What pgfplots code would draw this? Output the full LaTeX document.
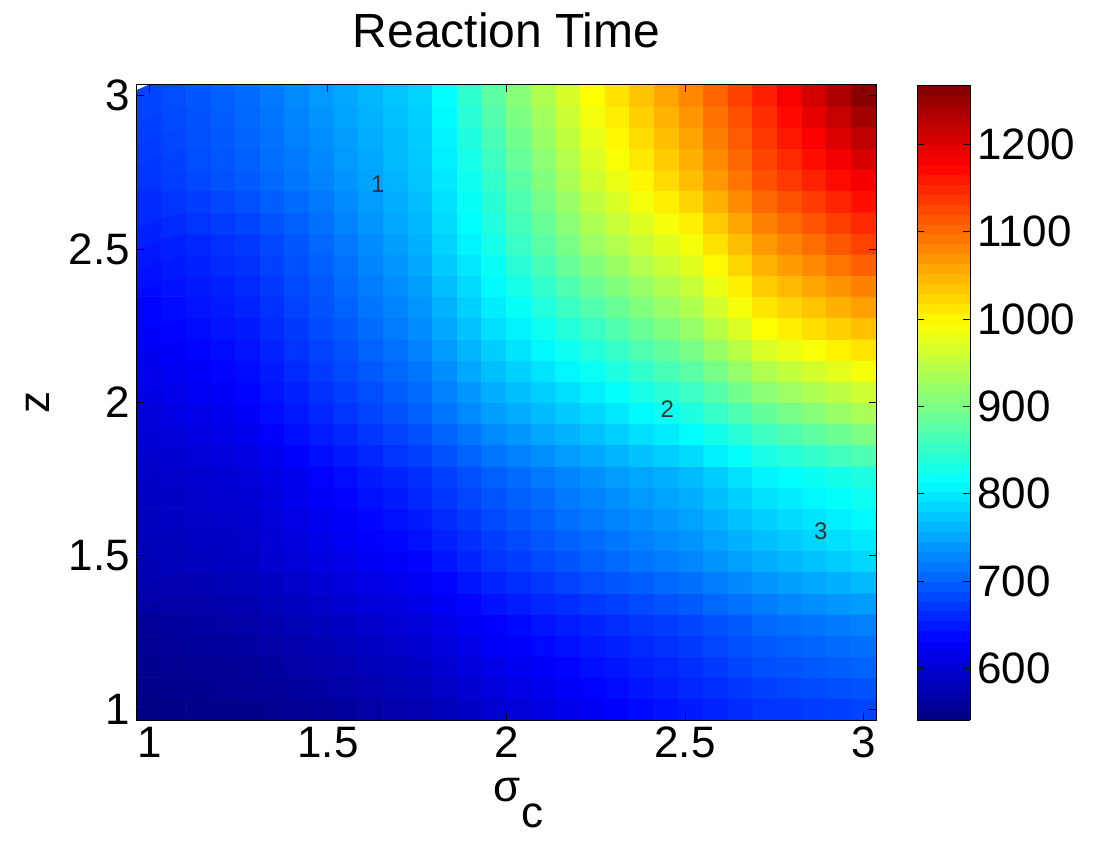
\documentclass[border=0pt]{standalone}
\usepackage{fontspec}
\setmainfont{Liberation Sans}
\usepackage{pgfplots}
\pgfplotsset{compat=1.18}

% MATLAB jet
\pgfplotsset{
  colormap={matjet}{rgb255(0cm)=(0,0,128) rgb255(1cm)=(0,0,255) rgb255(3cm)=(0,255,255)
    rgb255(5cm)=(255,255,0) rgb255(7cm)=(255,0,0) rgb255(8cm)=(128,0,0)},
}

\begin{document}
\begin{tikzpicture}
\begin{axis}[
  name=main,
  scale only axis, width=369.5pt, height=317.5pt,
  xmin=0.9655, xmax=3.0345, ymin=0.9655, ymax=3.0345,
  xtick={1,1.5,2,2.5,3}, ytick={1,1.5,2,2.5,3},
  tick align=inside, major tick length=3.7pt,
  every tick/.style={black, line width=0.5pt},
  axis line style={line width=0.5pt},
  tick label style={font=\fontsize{22}{22}\selectfont},
  /pgf/number format/assume math mode=true,
  title={Reaction Time},
  title style={font=\fontsize{24}{24}\selectfont, yshift=9pt},
  xlabel={σ\raisebox{-0.6em}{c}},
  xlabel style={yshift=-3pt, xshift=6pt},
  ylabel={z},
  ylabel style={yshift=3pt},
  label style={font=\fontsize{22}{22}\selectfont},
  colormap name=matjet,
  point meta min=541, point meta max=1268,
  colorbar sampled,
  colorbar style={
    samples=65,
    width=26.5pt,
    at={(parent axis.north east)}, anchor=north west, xshift=12pt,
    ytick={600,700,...,1200},
    tick align=inside, major tick length=3.7pt,
    ytick pos=both, yticklabel pos=right,
    yticklabel style={font=\fontsize{22}{22}\selectfont},
    /pgf/number format/1000 sep={},
    /pgf/number format/assume math mode=true,
  },
  axis on top,
]
\addplot[matrix plot*, mesh/cols=30, point meta=explicit]
  table[row sep=\\, meta index=0,
        x expr={1+2*mod(\coordindex,30)/29},
        y expr={1+2*floor(\coordindex/30)/29}] {
rt\\
545\\ 546\\ 548\\ 549\\ 550\\ 553\\ 556\\ 559\\ 563\\ 567\\ 571\\ 575\\ 583\\ 590\\ 598\\ 605\\ 612\\ 618\\ 625\\ 631\\ 638\\ 644\\ 650\\ 656\\ 662\\ 668\\ 671\\ 674\\ 677\\ 680\\
549\\ 551\\ 552\\ 554\\ 555\\ 558\\ 562\\ 565\\ 570\\ 574\\ 579\\ 583\\ 591\\ 599\\ 607\\ 614\\ 620\\ 627\\ 633\\ 639\\ 646\\ 652\\ 658\\ 664\\ 671\\ 677\\ 681\\ 684\\ 688\\ 691\\
552\\ 554\\ 556\\ 557\\ 559\\ 563\\ 567\\ 571\\ 576\\ 581\\ 585\\ 590\\ 598\\ 607\\ 615\\ 622\\ 628\\ 635\\ 641\\ 647\\ 653\\ 659\\ 665\\ 672\\ 680\\ 687\\ 691\\ 695\\ 698\\ 702\\
556\\ 558\\ 560\\ 562\\ 564\\ 568\\ 573\\ 577\\ 582\\ 588\\ 593\\ 598\\ 607\\ 615\\ 624\\ 630\\ 637\\ 643\\ 649\\ 655\\ 661\\ 667\\ 673\\ 681\\ 688\\ 696\\ 700\\ 704\\ 708\\ 712\\
559\\ 561\\ 564\\ 566\\ 568\\ 573\\ 578\\ 583\\ 589\\ 594\\ 600\\ 605\\ 614\\ 623\\ 632\\ 638\\ 645\\ 651\\ 657\\ 663\\ 669\\ 674\\ 680\\ 688\\ 697\\ 705\\ 710\\ 714\\ 719\\ 723\\
565\\ 568\\ 570\\ 573\\ 575\\ 581\\ 586\\ 592\\ 598\\ 604\\ 609\\ 615\\ 625\\ 634\\ 644\\ 651\\ 658\\ 664\\ 671\\ 677\\ 684\\ 690\\ 696\\ 705\\ 713\\ 722\\ 728\\ 733\\ 739\\ 744\\
571\\ 574\\ 577\\ 580\\ 583\\ 589\\ 595\\ 601\\ 607\\ 613\\ 619\\ 625\\ 635\\ 646\\ 656\\ 664\\ 671\\ 679\\ 686\\ 693\\ 699\\ 706\\ 712\\ 721\\ 729\\ 738\\ 745\\ 751\\ 758\\ 764\\
577\\ 580\\ 584\\ 587\\ 590\\ 597\\ 603\\ 610\\ 616\\ 623\\ 629\\ 635\\ 646\\ 657\\ 668\\ 676\\ 684\\ 692\\ 700\\ 707\\ 714\\ 721\\ 728\\ 737\\ 746\\ 755\\ 763\\ 770\\ 778\\ 785\\
580\\ 583\\ 587\\ 590\\ 593\\ 601\\ 608\\ 616\\ 623\\ 630\\ 636\\ 643\\ 654\\ 665\\ 676\\ 684\\ 693\\ 701\\ 709\\ 716\\ 723\\ 730\\ 737\\ 747\\ 758\\ 768\\ 776\\ 783\\ 791\\ 798\\
584\\ 587\\ 591\\ 594\\ 597\\ 605\\ 613\\ 621\\ 628\\ 636\\ 643\\ 650\\ 661\\ 673\\ 684\\ 693\\ 701\\ 710\\ 718\\ 725\\ 733\\ 740\\ 747\\ 758\\ 769\\ 780\\ 788\\ 795\\ 803\\ 810\\
587\\ 590\\ 594\\ 597\\ 600\\ 609\\ 618\\ 627\\ 635\\ 643\\ 650\\ 658\\ 669\\ 681\\ 692\\ 701\\ 709\\ 718\\ 726\\ 734\\ 741\\ 749\\ 756\\ 768\\ 781\\ 793\\ 801\\ 808\\ 816\\ 823\\
590\\ 593\\ 597\\ 600\\ 603\\ 613\\ 622\\ 632\\ 640\\ 649\\ 657\\ 665\\ 677\\ 688\\ 700\\ 709\\ 718\\ 726\\ 735\\ 743\\ 750\\ 758\\ 765\\ 778\\ 792\\ 805\\ 813\\ 820\\ 828\\ 835\\
595\\ 599\\ 603\\ 607\\ 611\\ 621\\ 631\\ 641\\ 650\\ 659\\ 668\\ 677\\ 690\\ 702\\ 715\\ 724\\ 734\\ 743\\ 752\\ 761\\ 770\\ 779\\ 788\\ 803\\ 817\\ 832\\ 841\\ 850\\ 859\\ 868\\
600\\ 605\\ 610\\ 615\\ 620\\ 630\\ 641\\ 651\\ 660\\ 670\\ 679\\ 688\\ 702\\ 716\\ 730\\ 740\\ 750\\ 759\\ 769\\ 780\\ 791\\ 801\\ 812\\ 827\\ 843\\ 858\\ 869\\ 880\\ 891\\ 902\\
605\\ 611\\ 617\\ 622\\ 628\\ 639\\ 649\\ 660\\ 670\\ 680\\ 690\\ 700\\ 715\\ 730\\ 745\\ 755\\ 766\\ 776\\ 786\\ 798\\ 811\\ 823\\ 835\\ 852\\ 868\\ 885\\ 898\\ 910\\ 923\\ 935\\
611\\ 617\\ 623\\ 628\\ 634\\ 645\\ 655\\ 666\\ 677\\ 687\\ 698\\ 708\\ 724\\ 740\\ 756\\ 768\\ 780\\ 791\\ 803\\ 816\\ 830\\ 843\\ 856\\ 875\\ 894\\ 913\\ 925\\ 937\\ 949\\ 961\\
617\\ 623\\ 628\\ 634\\ 639\\ 650\\ 662\\ 673\\ 684\\ 695\\ 705\\ 716\\ 733\\ 751\\ 768\\ 781\\ 795\\ 808\\ 821\\ 835\\ 850\\ 864\\ 878\\ 899\\ 919\\ 940\\ 952\\ 964\\ 976\\ 988\\
622\\ 628\\ 634\\ 639\\ 645\\ 656\\ 668\\ 679\\ 690\\ 702\\ 713\\ 724\\ 742\\ 761\\ 779\\ 794\\ 809\\ 823\\ 838\\ 853\\ 869\\ 884\\ 899\\ 922\\ 945\\ 968\\ 980\\ 991\\ 1003\\ 1014\\
628\\ 634\\ 639\\ 645\\ 650\\ 662\\ 673\\ 685\\ 697\\ 709\\ 720\\ 732\\ 751\\ 771\\ 790\\ 806\\ 823\\ 839\\ 855\\ 871\\ 888\\ 904\\ 920\\ 945\\ 970\\ 995\\ 1006\\ 1018\\ 1029\\ 1040\\
633\\ 639\\ 645\\ 650\\ 656\\ 667\\ 679\\ 690\\ 702\\ 715\\ 727\\ 739\\ 759\\ 780\\ 800\\ 818\\ 837\\ 855\\ 873\\ 889\\ 906\\ 922\\ 938\\ 963\\ 988\\ 1013\\ 1026\\ 1038\\ 1051\\ 1063\\
638\\ 644\\ 650\\ 655\\ 661\\ 672\\ 684\\ 695\\ 708\\ 720\\ 733\\ 745\\ 767\\ 788\\ 810\\ 830\\ 850\\ 870\\ 890\\ 906\\ 923\\ 939\\ 955\\ 981\\ 1006\\ 1032\\ 1045\\ 1059\\ 1072\\ 1085\\
643\\ 649\\ 655\\ 661\\ 667\\ 678\\ 689\\ 700\\ 713\\ 726\\ 739\\ 752\\ 775\\ 797\\ 820\\ 842\\ 864\\ 886\\ 908\\ 924\\ 941\\ 957\\ 973\\ 999\\ 1024\\ 1050\\ 1065\\ 1079\\ 1094\\ 1108\\
648\\ 654\\ 660\\ 666\\ 672\\ 683\\ 694\\ 705\\ 718\\ 732\\ 745\\ 758\\ 782\\ 806\\ 830\\ 854\\ 878\\ 901\\ 925\\ 941\\ 958\\ 974\\ 990\\ 1016\\ 1042\\ 1068\\ 1084\\ 1099\\ 1115\\ 1130\\
655\\ 661\\ 668\\ 674\\ 680\\ 691\\ 701\\ 712\\ 725\\ 738\\ 750\\ 763\\ 788\\ 812\\ 837\\ 862\\ 887\\ 912\\ 937\\ 955\\ 972\\ 990\\ 1007\\ 1033\\ 1059\\ 1085\\ 1101\\ 1117\\ 1132\\ 1148\\
661\\ 668\\ 675\\ 682\\ 689\\ 699\\ 708\\ 718\\ 730\\ 743\\ 755\\ 767\\ 792\\ 818\\ 843\\ 870\\ 897\\ 923\\ 950\\ 969\\ 988\\ 1006\\ 1025\\ 1051\\ 1077\\ 1103\\ 1119\\ 1135\\ 1151\\ 1167\\
668\\ 675\\ 683\\ 690\\ 697\\ 706\\ 716\\ 725\\ 737\\ 749\\ 760\\ 772\\ 798\\ 824\\ 850\\ 878\\ 906\\ 934\\ 962\\ 982\\ 1002\\ 1022\\ 1042\\ 1068\\ 1094\\ 1120\\ 1136\\ 1153\\ 1169\\ 1185\\
671\\ 678\\ 686\\ 693\\ 700\\ 710\\ 719\\ 729\\ 741\\ 752\\ 764\\ 775\\ 803\\ 830\\ 858\\ 886\\ 914\\ 942\\ 970\\ 991\\ 1011\\ 1032\\ 1052\\ 1078\\ 1103\\ 1129\\ 1148\\ 1167\\ 1185\\ 1204\\
674\\ 681\\ 689\\ 696\\ 703\\ 713\\ 723\\ 733\\ 744\\ 755\\ 766\\ 777\\ 806\\ 836\\ 865\\ 894\\ 922\\ 951\\ 979\\ 1000\\ 1020\\ 1041\\ 1061\\ 1087\\ 1112\\ 1138\\ 1160\\ 1181\\ 1203\\ 1224\\
677\\ 684\\ 691\\ 698\\ 705\\ 716\\ 726\\ 737\\ 748\\ 759\\ 769\\ 780\\ 811\\ 842\\ 873\\ 902\\ 930\\ 959\\ 987\\ 1008\\ 1029\\ 1050\\ 1071\\ 1096\\ 1121\\ 1146\\ 1170\\ 1195\\ 1219\\ 1243\\
680\\ 687\\ 694\\ 701\\ 708\\ 719\\ 730\\ 741\\ 751\\ 762\\ 772\\ 782\\ 815\\ 847\\ 880\\ 909\\ 938\\ 966\\ 995\\ 1016\\ 1038\\ 1059\\ 1080\\ 1105\\ 1130\\ 1155\\ 1182\\ 1209\\ 1235\\ 1262\\
};
\node[font=\fontsize{12}{12}\selectfont, text=black!80] at (axis cs:1.64,2.71) {1};
\node[font=\fontsize{12}{12}\selectfont, text=black!80] at (axis cs:2.45,1.98) {2};
\node[font=\fontsize{12}{12}\selectfont, text=black!80] at (axis cs:2.88,1.58) {3};
\end{axis}
\pgfresetboundingbox
\path[use as bounding box] ([xshift=-68.5pt,yshift=-62.5pt]main.south west) rectangle ++(547.5pt,422.5pt);
\end{tikzpicture}
\end{document}
